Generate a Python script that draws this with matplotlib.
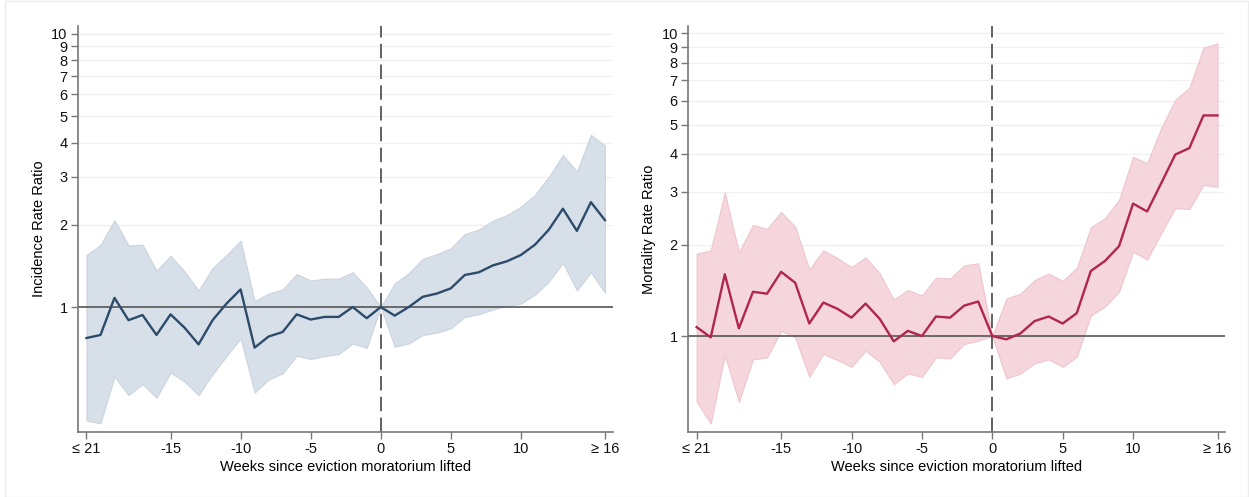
import numpy as np
import matplotlib
matplotlib.use("Agg")
import matplotlib.pyplot as plt
from matplotlib.patches import Rectangle
from matplotlib.ticker import FixedLocator, NullLocator

plt.rcParams["font.family"] = ["Liberation Sans", "DejaVu Sans"]

weeks = list(range(-21, 17))

# Incidence rate ratio (left)
inc_est = [0.77, 0.79, 1.08, 0.895, 0.935, 0.79, 0.94, 0.84, 0.73, 0.895, 1.03, 1.16,
           0.71, 0.78, 0.81, 0.94, 0.90, 0.92, 0.92, 1.0, 0.91, 1.0,
           0.93, 1.0, 1.09, 1.12, 1.17, 1.31, 1.34, 1.42, 1.47, 1.55, 1.69, 1.92,
           2.29, 1.90, 2.42, 2.08]
inc_hi = [1.55, 1.69, 2.08, 1.68, 1.69, 1.36, 1.54, 1.35, 1.15, 1.39, 1.55, 1.75,
          1.05, 1.12, 1.16, 1.32, 1.25, 1.27, 1.27, 1.34, 1.18, 1.0,
          1.22, 1.33, 1.50, 1.56, 1.64, 1.85, 1.92, 2.07, 2.17, 2.33, 2.57, 3.0,
          3.6, 3.13, 4.27, 3.90]
inc_lo = [0.384, 0.375, 0.556, 0.476, 0.522, 0.466, 0.575, 0.533, 0.476, 0.568, 0.661, 0.768,
          0.486, 0.543, 0.572, 0.663, 0.645, 0.661, 0.673, 0.736, 0.708, 1.0,
          0.716, 0.736, 0.79, 0.805, 0.836, 0.92, 0.94, 0.98, 1.01, 1.03, 1.11, 1.24,
          1.45, 1.15, 1.34, 1.13]

# Mortality rate ratio (right)
mort_est = [1.07, 0.99, 1.60, 1.06, 1.40, 1.38, 1.63, 1.50, 1.10, 1.29, 1.23, 1.15,
            1.28, 1.14, 0.96, 1.04, 1.0, 1.16, 1.15, 1.26, 1.30, 1.0,
            0.975, 1.02, 1.12, 1.16, 1.10, 1.19, 1.64, 1.77, 1.98, 2.74, 2.58, 3.2,
            3.98, 4.18, 5.36, 5.36]
mort_hi = [1.87, 1.92, 2.98, 1.89, 2.33, 2.26, 2.57, 2.30, 1.66, 1.92, 1.81, 1.69,
           1.82, 1.61, 1.32, 1.42, 1.36, 1.56, 1.55, 1.71, 1.74, 1.0,
           1.33, 1.38, 1.53, 1.61, 1.52, 1.68, 2.29, 2.45, 2.82, 3.91, 3.73, 4.87,
           6.04, 6.61, 8.97, 9.27]
mort_lo = [0.606, 0.514, 0.865, 0.606, 0.837, 0.85, 1.04, 0.99, 0.733, 0.872, 0.833, 0.791,
           0.894, 0.822, 0.693, 0.752, 0.733, 0.85, 0.844, 0.94, 0.965, 1.0,
           0.724, 0.752, 0.812, 0.837, 0.791, 0.854, 1.17, 1.25, 1.40, 1.90, 1.79, 2.19,
           2.65, 2.63, 3.16, 3.11]

xticks = [-21, -15, -10, -5, 0, 5, 10, 16]
xticklabels = ["≤ 21", "-15", "-10", "-5", "0", "5", "10", "≥ 16"]
yticks = [1, 2, 3, 4, 5, 6, 7, 8, 9, 10]

fig = plt.figure(figsize=(12.49, 4.97), dpi=100)
fig.patches.append(Rectangle((0.004, 0.0), 0.995, 0.997, transform=fig.transFigure,
                             fill=False, edgecolor="#ececec", lw=1))

panels = [
    ([0.0625, 0.131, 0.428, 0.817], inc_est, inc_lo, inc_hi, "#2c4b6b", "#d5dfe8", "#c9d3dd",
     "Incidence Rate Ratio", (0.349, 10.7)),
    ([0.551, 0.131, 0.430, 0.817], mort_est, mort_lo, mort_hi, "#b0264c", "#f5d4dc", "#efc3cd",
     "Mortality Rate Ratio", (0.482, 10.6)),
]

for rect, est, lo, hi, lc, fc, ec, ylab, ylim in panels:
    ax = fig.add_axes(rect)
    ax.set_yscale("log")
    ax.set_xlim(-21.6, 16.55)
    ax.set_ylim(*ylim)
    for y in yticks[1:]:
        ax.axhline(y, color="#f0f0f0", lw=1, zorder=0)
    ax.fill_between(weeks, lo, hi, color=fc, alpha=0.95, lw=0.8, edgecolor=ec, zorder=1)
    ax.axhline(1, color="#555555", lw=1.2, zorder=2)
    ax.axvline(0, color="#555555", lw=1.3, ls=(0, (8, 3.5)), zorder=2)
    ax.plot(weeks, est, color=lc, lw=1.7, zorder=3)
    ax.yaxis.set_major_locator(FixedLocator(yticks))
    ax.yaxis.set_minor_locator(NullLocator())
    ax.set_yticklabels([str(v) for v in yticks])
    ax.set_xticks(xticks)
    ax.set_xticklabels(xticklabels)
    ax.tick_params(axis="both", colors="#777777", labelcolor="#111111", labelsize=10.5,
                   length=5, width=1, pad=2.5)
    for s in ["top", "right"]:
        ax.spines[s].set_visible(False)
    for s in ["left", "bottom"]:
        ax.spines[s].set_color("#777777")
        ax.spines[s].set_linewidth(1.2)
    ax.set_ylabel(ylab, fontsize=10.5)
    ax.yaxis.set_label_coords(-0.060, 0.5)
    ax.set_xlabel("Weeks since eviction moratorium lifted", fontsize=10.5, labelpad=3)

plt.savefig("out.png", dpi=100)
plt.close()
